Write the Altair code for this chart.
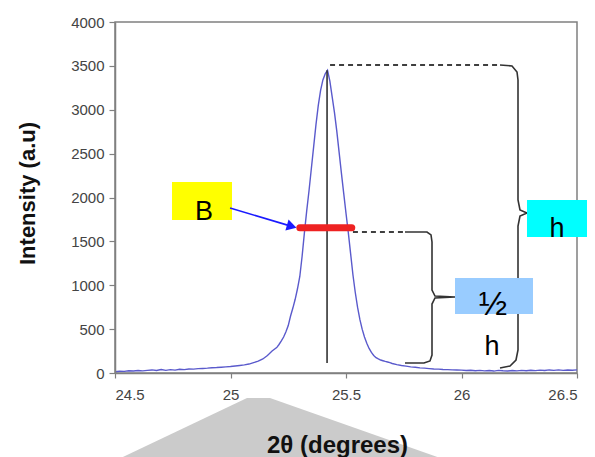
import altair as alt
import pandas as pd

# ---- diffraction profile ----
two_theta = [24.50, 24.52, 24.54, 24.56, 24.58, 24.60, 24.62, 24.64, 24.66, 24.68,
             24.70, 24.72, 24.74, 24.76, 24.78, 24.80, 24.82, 24.84, 24.86, 24.88,
             24.90, 24.92, 24.94, 24.96, 24.98, 25.00, 25.02, 25.04, 25.06, 25.08,
             25.10, 25.12, 25.14, 25.16, 25.18,
             25.20, 25.21, 25.22, 25.23, 25.24, 25.25, 25.26, 25.27, 25.28, 25.29,
             25.30, 25.31, 25.32, 25.33, 25.34, 25.35, 25.36, 25.37, 25.38, 25.39,
             25.40, 25.41, 25.42, 25.43, 25.44, 25.45, 25.46, 25.47, 25.48, 25.49,
             25.50, 25.51, 25.52, 25.53, 25.54, 25.55, 25.56, 25.57, 25.58, 25.59,
             25.60, 25.61, 25.62, 25.63, 25.64, 25.65, 25.66, 25.67, 25.68, 25.69,
             25.70, 25.72, 25.74, 25.76, 25.78, 25.80, 25.82, 25.84, 25.86, 25.88,
             25.90, 25.92, 25.94, 25.96, 25.98, 26.00, 26.02, 26.04, 26.06, 26.08,
             26.10, 26.12, 26.14, 26.16, 26.18, 26.20, 26.22, 26.24, 26.26, 26.28,
             26.30, 26.32, 26.34, 26.36, 26.38, 26.40, 26.42, 26.44, 26.46, 26.48,
             26.50]
intensity = [15, 20, 18, 25, 22, 28, 24, 30, 35, 28,
             40, 30, 38, 33, 42, 38, 45, 44, 50, 52,
             55, 60, 62, 66, 70, 74, 80, 86, 92, 102,
             118, 135, 160, 200, 250,
             290, 325, 365, 410, 470, 540, 650, 740, 840, 960,
             1100, 1330, 1600, 1850, 2080, 2330, 2580, 2830, 3050, 3220,
             3340, 3410, 3450, 3330, 3150, 2970, 2760, 2520, 2280, 2050,
             1820, 1600, 1360, 1120, 920, 750, 610, 500, 410, 340,
             280, 235, 200, 175, 160, 148, 140, 132, 125, 118,
             108, 95, 85, 78, 70, 66, 58, 55, 50, 45,
             44, 40, 38, 36, 34, 33, 28, 32, 26, 30,
             24, 28, 22, 30, 25, 22, 28, 24, 30, 26,
             32, 27, 33, 28, 35, 30, 36, 30, 35, 32,
             36]

x_ticks = [24.5, 25, 25.5, 26, 26.5]
y_ticks = [0, 500, 1000, 1500, 2000, 2500, 3000, 3500, 4000]

# ---- annotations (data units) ----
peak_x = [25.418]
peak_top = [3450]
peak_base = [114]

fwhm_y = [1656]
fwhm_x1 = [25.30]
fwhm_x2 = [25.525]

dash_x1 = [25.431, 25.530]
dash_x2 = [26.167, 25.755]
dash_y = [3510, 1607]

big_brace_x = [26.1667, 26.2186, 26.2403, 26.2446, 26.2446, 26.2532, 26.2835,
               26.2532, 26.2446, 26.2446, 26.2359, 26.2100, 26.1667]
big_brace_y = [3510, 3499, 3430, 3339, 1972, 1858, 1823, 1789, 1675, 262, 148, 80, 57]
small_brace_x = [25.7554, 25.8506, 25.8680, 25.8723, 25.8723, 25.8853, 25.9719,
                 25.8853, 25.8723, 25.8723, 25.8636, 25.8377, 25.7554]
small_brace_y = [1607, 1607, 1573, 1493, 946, 877, 866, 855, 786, 205, 137, 114, 114]

box_x1 = [24.7468, 26.2835, 25.9719]
box_x2 = [25.0065, 26.5433, 26.3095]
box_y1 = [1744, 1550, 672]
box_y2 = [2177, 1972, 1083]
box_color = ["#ffff00", "#00ffff", "#99ccff"]

label_text = ["B", "h", "h"]
label_x = [24.885, 26.413, 26.132]
label_y = [1744, 1550, 205]

half_text = ["½"]
half_x = [26.136]
half_y = [660]

arrow_x1 = [24.998]
arrow_y1 = [1880]
arrow_x2 = [25.265]
arrow_y2 = [1671]

shade_x = [24.50, 25.0714, 25.171, 25.9416]
shade_y = [-1000, -285, -285, -1000]
shade_base = [-1000, -1000, -1000, -1000]

# ---- scales ----
xs = alt.Scale(domain=[24.5, 26.5], nice=False, zero=False)
ys = alt.Scale(domain=[0, 4000], nice=False)

x_axis = alt.Axis(values=x_ticks, format="~f", title="2θ (degrees)", grid=False,
                  tickSize=5, labelPadding=9, titleX=222, titleY=79, titleFontSize=24,
                  titleBaseline="alphabetic", titleAlign="center", zindex=1)
y_axis = alt.Axis(values=y_ticks, format="d", title="Intensity (a.u)", grid=False,
                  tickSize=6, labelPadding=5, titleX=-88, titleY=171,
                  titleAngle=-90, titleBaseline="middle", titleAlign="center", zindex=1)

curve_df = pd.DataFrame({"t": two_theta, "i": intensity})

shade = alt.Chart(pd.DataFrame({"x": shade_x, "y": shade_y, "y2": shade_base})).mark_area(
    color="#cbcbcb", opacity=1).encode(
    x=alt.X("x:Q", scale=xs, axis=x_axis),
    y=alt.Y("y:Q", scale=ys, axis=y_axis),
    y2="y2:Q")

curve = alt.Chart(curve_df).mark_line(color="#5a5acc", strokeWidth=1.4).encode(
    x=alt.X("t:Q", scale=xs), y=alt.Y("i:Q", scale=ys))

peak_rule = alt.Chart(pd.DataFrame({"x": peak_x, "y": peak_base, "y2": peak_top})).mark_rule(
    color="#333333", strokeWidth=1.6).encode(
    x=alt.X("x:Q", scale=xs), y=alt.Y("y:Q", scale=ys), y2="y2:Q")

dashes = alt.Chart(pd.DataFrame({"x": dash_x1, "x2": dash_x2, "y": dash_y})).mark_rule(
    color="#000000", strokeWidth=1.5, strokeDash=[5, 4]).encode(
    x=alt.X("x:Q", scale=xs), x2="x2:Q", y=alt.Y("y:Q", scale=ys))

brace_df = pd.DataFrame({
    "x": big_brace_x + small_brace_x,
    "y": big_brace_y + small_brace_y,
    "k": ["big"] * len(big_brace_x) + ["small"] * len(small_brace_x),
    "o": list(range(len(big_brace_x))) + list(range(len(small_brace_x))),
})
braces = alt.Chart(brace_df).mark_line(color="#333333", strokeWidth=1.6).encode(
    x=alt.X("x:Q", scale=xs), y=alt.Y("y:Q", scale=ys), detail="k:N", order="o:Q")

fwhm = alt.Chart(pd.DataFrame({"x": fwhm_x1, "x2": fwhm_x2, "y": fwhm_y})).mark_rule(
    color="#ee2222", strokeWidth=7, strokeCap="round").encode(
    x=alt.X("x:Q", scale=xs), x2="x2:Q", y=alt.Y("y:Q", scale=ys))

boxes = alt.Chart(pd.DataFrame({"x": box_x1, "x2": box_x2, "y": box_y1, "y2": box_y2,
                                "c": box_color})).mark_rect().encode(
    x=alt.X("x:Q", scale=xs), x2="x2:Q", y=alt.Y("y:Q", scale=ys), y2="y2:Q",
    color=alt.Color("c:N", scale=None))

labels = alt.Chart(pd.DataFrame({"x": label_x, "y": label_y, "s": label_text})).mark_text(
    font="Liberation Sans", fontSize=27, color="#000000", baseline="alphabetic",
    align="center").encode(
    x=alt.X("x:Q", scale=xs), y=alt.Y("y:Q", scale=ys), text="s:N")

half = alt.Chart(pd.DataFrame({"x": half_x, "y": half_y, "s": half_text})).mark_text(
    font="Liberation Sans", fontSize=34, color="#000000", baseline="alphabetic",
    align="center").encode(
    x=alt.X("x:Q", scale=xs), y=alt.Y("y:Q", scale=ys), text="s:N")

arrow_line = alt.Chart(pd.DataFrame({"x": arrow_x1, "y": arrow_y1, "x2": arrow_x2,
                                     "y2": arrow_y2})).mark_rule(
    color="#1a1aff", strokeWidth=1.6).encode(
    x=alt.X("x:Q", scale=xs), y=alt.Y("y:Q", scale=ys), x2="x2:Q", y2="y2:Q")

arrow_head = alt.Chart(pd.DataFrame({"x": arrow_x2, "y": arrow_y2})).mark_point(
    shape="triangle-right", filled=True, size=130, angle=16, color="#1a1aff",
    opacity=1).encode(x=alt.X("x:Q", scale=xs), y=alt.Y("y:Q", scale=ys))

chart = alt.layer(shade, curve, peak_rule, dashes, braces, fwhm, boxes, labels, half,
                  arrow_line, arrow_head).properties(
    width=462, height=351,
    autosize=alt.AutoSizeParams(type="none"),
    padding={"left": 115, "top": 22, "right": 18, "bottom": 84},
).configure_view(stroke="#808080", strokeWidth=1.5).configure_axis(
    domainColor="#808080", domainWidth=1.5, tickColor="#808080", tickWidth=1.2,
    labelFont="Liberation Sans", labelFontSize=15, labelColor="#444444",
    titleFont="Liberation Sans", titleFontSize=22, titleFontWeight="bold",
    titleColor="#111111")

chart.save("out.html", embed_options={"renderer": "svg", "actions": False})
